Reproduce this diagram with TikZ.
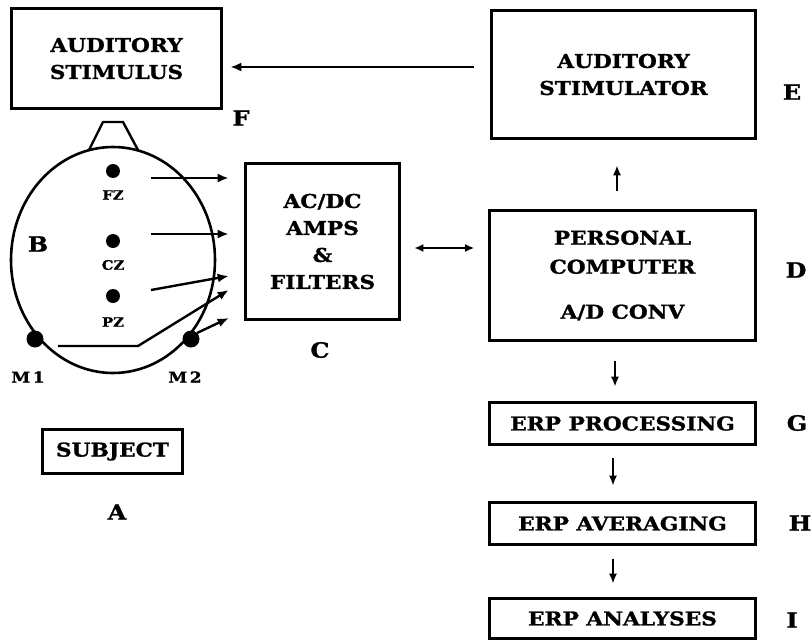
\documentclass[tikz,border=0pt]{standalone}
\usepackage{fontspec}
\setmainfont{DejaVu Serif}
\newfontfamily\heavy{DejaVu Serif Bold}[FakeStretch=1.14,FakeBold=1.2]
\usetikzlibrary{arrows.meta,calc}
\begin{document}
\begin{tikzpicture}[x=1pt,y=-1pt,
  box/.style={draw,line width=2.6pt,inner sep=0pt,align=center,font=\heavy\fontsize{19}{27}\selectfont},
  arr/.style={line width=2.4pt,-{Latex[length=11pt,width=9pt]}},
  darr/.style={line width=2.2pt,{Latex[length=9pt,width=8pt]}-{Latex[length=9pt,width=8pt]}},
  varr/.style={line width=2.2pt,-{Latex[length=10pt,width=8pt]}},
  lbl/.style={font=\heavy\fontsize{21}{24}\selectfont,inner sep=0pt},
  elec/.style={font=\heavy\fontsize{13}{14}\selectfont,inner sep=0pt},
  mlab/.style={font=\heavy\fontsize{15}{15}\selectfont,inner sep=0pt},
  dot/.style={circle,fill=black,inner sep=0pt,minimum size=14pt},
  bigdot/.style={circle,fill=black,inner sep=0pt,minimum size=17pt}]
\useasboundingbox (0,0) rectangle (812,640);
% boxes
\node[box,minimum width=210pt,minimum height=100pt] (stim) at (116.5,58.5) {AUDITORY\\STIMULUS};
\node[box,minimum width=264pt,minimum height=128pt] (stimr) at (623.5,74.5) {AUDITORY\\STIMULATOR};
\node[box,minimum width=154pt,minimum height=156pt] (amp) at (322.5,241.5) {AC/DC\\AMPS\\\&\\FILTERS};
\node[box,minimum width=266pt,minimum height=130pt,font=\heavy\fontsize{19}{29}\selectfont] (pc) at (622.5,275.5) {PERSONAL\\COMPUTER\\[16pt]A/D CONV};
\node[box,minimum width=266pt,minimum height=42pt] (proc) at (622.5,423.5) {ERP PROCESSING};
\node[box,minimum width=266pt,minimum height=42pt] (avg) at (622.5,523.5) {ERP AVERAGING};
\node[box,minimum width=266pt,minimum height=40pt] (ana) at (622.5,618.5) {ERP ANALYSES};
\node[box,minimum width=140pt,minimum height=44pt] (subj) at (112.5,451.5) {SUBJECT};
% letters
\node[lbl] (lF) at (241,118) {F};
\node[lbl] (lE) at (792,92) {E};
\node[lbl] (lD) at (796,270) {D};
\node[lbl] (lG) at (797,423) {G};
\node[lbl] (lH) at (800,523) {H};
\node[lbl] (lI) at (792,620) {I};
\node[lbl] (lC) at (320,350) {C};
\node[lbl] (lB) at (38,244) {B};
\node[lbl] (lA) at (117,512) {A};
% head
\draw[line width=2.6pt] (113,260) ellipse [x radius=102pt, y radius=113pt];
\draw[line width=2.4pt] (89,150) -- (103,122) -- (123,122) -- (138,150);
% electrodes
\node[dot] (fz) at (113,171) {};
\node[dot] (cz) at (113,241) {};
\node[dot] (pz) at (113,296) {};
\node[bigdot] (m1) at (35,339) {};
\node[bigdot] (m2) at (191,339) {};
\node[elec] (tfz) at (113,195) {FZ};
\node[elec] (tcz) at (113,265) {CZ};
\node[elec] (tpz) at (113,322) {PZ};
\node[mlab] (tm1) at (28,377) {M\,1};
\node[mlab] (tm2) at (185,377) {M\,2};
% connectors
\draw[arr] ($(fz)+(38,7)$) -- ($(amp.west)+(-15.5,-63.5)$);
\draw[arr] ($(cz)+(38,-7)$) -- ($(amp.west)+(-15.5,-7.5)$);
\draw[arr] ($(pz)+(38,-6)$) -- ($(amp.west)+(-15.5,34.5)$);
\draw[arr] ($(m1)+(23,7)$) -- ($(m1)+(103,7)$) -- ($(amp.west)+(-15.5,48.5)$);
\draw[arr] ($(m2)+(6,-6)$) -- ($(amp.west)+(-15.5,76.5)$);
\draw[arr] ($(stimr.west)+(-16.5,-7.5)$) -- ($(stim.east)+(7.5,8.5)$);
\draw[darr] ($(amp.east)+(13.5,6.5)$) -- ($(pc.west)+(-14,-27.5)$);
\draw[varr] ($(pc.north)+(-5.5,-18)$) -- ($(stimr.south)+(-6.5,25.5)$);
\draw[varr] ($(pc.south)+(-7.5,19.5)$) -- ($(proc.north)+(-7.5,-14.5)$);
\draw[varr] ($(proc.south)+(-9.5,12.5)$) -- ($(avg.north)+(-9.5,-15.5)$);
\draw[varr] ($(avg.south)+(-9.5,13.5)$) -- ($(ana.north)+(-9.5,-13.5)$);
\end{tikzpicture}
\end{document}
